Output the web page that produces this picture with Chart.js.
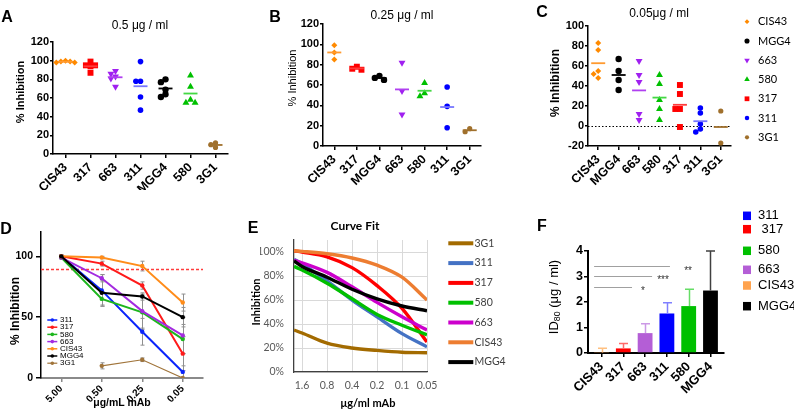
<!DOCTYPE html>
<html><head><meta charset="utf-8"><title>Inhibition panels</title>
<script src="https://cdn.jsdelivr.net/npm/chart.js@4.4.1/dist/chart.umd.min.js"></script>
<style>
html,body{margin:0;padding:0;background:#fff;}
#wrap{position:relative;width:794px;height:415px;overflow:hidden;background:#fff;font-family:"Liberation Sans",Arial,sans-serif;color:#000;}
#wrap canvas{position:absolute;}
.t{position:absolute;transform:translate(-50%,-50%);white-space:nowrap;line-height:1;}
.r{transform:translate(-50%,-50%) rotate(-90deg);}
.L{font-weight:bold;font-size:16px;}
.ti{font-size:12px;}
.b{font-weight:bold;}
.cal{font-family:Lato,"Open Sans",sans-serif;}
sub{font-size:0.68em;vertical-align:-0.25em;line-height:0;}
</style></head><body>
<div id="wrap">
 <div class="t L" style="left:7px;top:17px">A</div>
 <div class="t ti" style="left:140px;top:25px">0.5 μg / ml</div>
 <div class="t r b" style="left:20px;top:92px;font-size:11px">% Inhibition</div>

 <div class="t L" style="left:275px;top:17px">B</div>
 <div class="t ti" style="left:402px;top:15px">0.25 μg / ml</div>
 <div class="t r" style="left:292px;top:78px;font-size:11px">% Inhibition</div>

 <div class="t L" style="left:542px;top:12px">C</div>
 <div class="t ti" style="left:659px;top:13px">0.05μg / ml</div>
 <div class="t r b" style="left:555px;top:83px;font-size:12px">% Inhibition</div>

 <div class="t L" style="left:6px;top:229px">D</div>
 <div class="t r b" style="left:15px;top:311px;font-size:12px">% Inhibition</div>
 <div class="t b" style="left:122px;top:402px;font-size:10.5px">μg/mL mAb</div>

 <div class="t L" style="left:253px;top:228px">E</div>
 <div class="t b cal" style="left:355px;top:226px;font-size:12px">Curve Fit</div>
 <div class="t r b cal" style="left:255px;top:302px;font-size:11px">Inhibition</div>
 <div class="t b cal" style="left:368px;top:402px;font-size:11px">μg/ml mAb</div>

 <div class="t L" style="left:542px;top:226px">F</div>
 <div class="t r" style="left:553px;top:297px;font-size:13px">ID<sub>80</sub> (μg / ml)</div>
</div>
<script>
// ================= DATA =================
// Panel A : 0.5 ug/ml
const catsA = ['CIS43','317','663','311','MGG4','580','3G1'];
const valsA = [[98,100,99,99,98],[99,95,94,95,87],[89,86,83,81,72],[99,78,78,61,47],[80,77,69,64,61],[84,72,58,55,55],[12,10,7]];
const ticksA = [0,20,40,60,80,100,120];
// Panel B : 0.25 ug/ml
const catsB = ['CIS43','317','MGG4','663','580','311','3G1'];
const valsB = [[99,92,85],[75,78,76],[65,69,67],[82,54,31],[62,49,52],[58,39,18],[14,17]];
const ticksB = [0,20,40,60,80,100,120];
// Panel C : 0.05 ug/ml
const catsC = ['CIS43','MGG4','663','580','317','311','3G1'];
const valsC = [[83,76,55,52,48],[67,55,46,36],[65,51,44,12,6],[51,42,26,17,6],[41,32,17,17,-1],[18,13,2,-3,-6],[15,-17]];
const ticksC = [-20,0,20,40,60,80,100];
// Panel D : dose response (mean, sd)
const dosesD = ['5.00','0.50','0.25','0.05'];
const seriesD = ['311','317','580','663','CIS43','MGG4','3G1'];
const meanD = [[100,72,38,5],[100,94,76,20],[99,65,54,32],[99,82,55,35],[100,99,92,62],[100,70,67,50],[null,10,15,0]];
const sdD = [[1,13,11,5],[1,2,3,14],[1,6,14,12],[1,3,14,15],[1,1,4,7],[1,10,3,8],[null,2.5,1.5,0]];
const ticksD = [0,50,100];
const thresholdD = 90;
// Panel E : curve fit
const concE = [2,1.6,0.8,0.4,0.2,0.1,0.05];
const concTicksE = [1.6,0.8,0.4,0.2,0.1,0.05];
const seriesE = ['3G1','311','317','580','663','CIS43','MGG4'];
const fitE = [
  [35,32.5,24,20,18,16.5,16],
  [94,90,76,60,46,32,21],
  [101,100,96,87,72,53,25],
  [88,85,74,61,48,39,31],
  [93,91,83,71,58,46,35],
  [101,100.5,98.5,95,89,79,60],
  [92.5,88,79,69,61,55,51]
];
const ticksE = [0,20,40,60,80,100];
// Panel F : ID80
const catsF = ['CIS43','317','663','311','580','MGG4'];
const id80F = [0.02,0.18,0.78,1.55,1.84,2.45];
const errF = [0.17,0.19,0.37,0.42,0.66,1.55];
const ticksF = [0,1,2,3,4];
const sigLevelsF = [3.43,3.03,2.6];
const sigLabelsF = ['**','***','*'];
const legendF = ['311',' 317','580','663','CIS43','MGG4'];

// ================= STYLE =================
const ARIAL='"Liberation Sans", Arial, Helvetica, sans-serif';
const CAL='Lato, "Open Sans", sans-serif';
const NARROW='"Liberation Sans Narrow", "Liberation Sans", Arial, sans-serif';
Chart.defaults.font.family = ARIAL;
Chart.defaults.color = '#000';

const STY = {
  'CIS43':{c:'#FF8A00', m:'#FF9A30', ps:'rectRot', r:3},
  '317':  {c:'#FF0000', m:'#FF3B3B', ps:'rect', r:4.2},
  '663':  {c:'#A020F0', m:'#B040F0', ps:'triangle', rot:180, r:4},
  '311':  {c:'#0000FF', m:'#7777FF', ps:'circle', r:2.8},
  'MGG4': {c:'#000000', m:'#000000', ps:'circle', r:3.2},
  '580':  {c:'#00C000', m:'#44D844', ps:'triangle', r:4},
  '3G1':  {c:'#A0702C', m:'#A0702C', ps:'circle', r:2.6}
};
const colD = {'311':'#0B24FB','317':'#FF1A1A','580':'#1DB61D','663':'#A32BE0','CIS43':'#FF8C1A','MGG4':'#000000','3G1':'#A0743A'};
const colE = {'3G1':'#A36B00','311':'#4472C4','317':'#FF0000','580':'#00C000','663':'#CC00CC','CIS43':'#ED7D31','MGG4':'#000000'};
const colF = {'CIS43':'#FFA34F','317':'#FF0000','663':'#B45ED6','311':'#0000FF','580':'#00C000','MGG4':'#000000'};
const errColF = {'CIS43':'#FFC080','317':'#FF6B6B','663':'#CC99E6','311':'#8080FF','580':'#66DD66','MGG4':'#404040'};

// ================= LAYOUT =================
const FR = {
  A:{x:0,y:0,w:260,h:190,l:53,r:228,t:42,b:154},
  B:{x:260,y:0,w:260,h:190,l:323,r:481,t:24,b:146},
  C:{x:520,y:0,w:274,h:190,l:588,r:731,t:26,b:146},
  D:{x:0,y:190,w:260,h:225,l:41,r:203,t:232,b:378},
  E:{x:260,y:190,w:260,h:225,l:294,r:427,t:240,b:372},
  F:{x:520,y:190,w:274,h:225,l:588,r:724,t:251,b:353}
};
const wrap = document.getElementById('wrap');
function canvasFor(k){
  const f=FR[k]; const c=document.createElement('canvas');
  c.width=f.w; c.height=f.h;
  c.style.left=f.x+'px'; c.style.top=f.y+'px'; c.style.width=f.w+'px'; c.style.height=f.h+'px';
  wrap.insertBefore(c, wrap.firstChild); return c;
}
function baseOptions(k){
  const f=FR[k];
  return {responsive:false, maintainAspectRatio:false, animation:false, devicePixelRatio:1, events:[],
    layout:{padding:{left:0, top:f.t-f.y, right:f.x+f.w-f.r, bottom:0}},
    plugins:{legend:{display:false}, tooltip:{enabled:false}, title:{display:false}}};
}
const fitX = k => s => { s.height = FR[k].y + FR[k].h - FR[k].b; };
const fitY = k => s => { s.width = FR[k].l - FR[k].x; };

function marker(ctx, style, x, y, r, rot){
  ctx.beginPath();
  if(style==='circle'){ ctx.arc(x,y,r,0,Math.PI*2); }
  else if(style==='rect'){ const s=r*Math.SQRT1_2; ctx.rect(x-s,y-s,2*s,2*s); }
  else if(style==='rectRot'){ ctx.moveTo(x,y-r); ctx.lineTo(x+r,y); ctx.lineTo(x,y+r); ctx.lineTo(x-r,y); ctx.closePath(); }
  else if(style==='triangle'){ const a=(rot||0)*Math.PI/180; for(let i=0;i<3;i++){ const t=a+i*2*Math.PI/3; const px=x+Math.sin(t)*r, py=y-Math.cos(t)*r; if(i) ctx.lineTo(px,py); else ctx.moveTo(px,py);} ctx.closePath(); }
  ctx.fill();
}
function legendPlugin(id, cfg){
  return {id, afterDraw(ch){
    const ctx=ch.ctx; ctx.save(); ctx.font=cfg.font; ctx.textBaseline='middle'; ctx.textAlign='left';
    cfg.items.forEach((it,i)=>{
      const y = cfg.ys ? cfg.ys[i] : cfg.y0 + i*cfg.step; const x=cfg.x;
      if(cfg.kind==='line'){
        ctx.strokeStyle=it.color; ctx.lineWidth=it.lw||cfg.lw; ctx.beginPath(); ctx.moveTo(x,y); ctx.lineTo(x+cfg.len,y); ctx.stroke();
        if(cfg.mr){ ctx.fillStyle=it.color; marker(ctx,'circle',x+cfg.len/2,y,cfg.mr); }
      } else if(cfg.kind==='point'){ ctx.fillStyle=it.color; marker(ctx,it.ps,x,y,it.r,it.rot); }
      else if(cfg.kind==='box'){ ctx.fillStyle=it.color; ctx.fillRect(x, y-cfg.bh/2, cfg.bw, cfg.bh); }
      ctx.fillStyle=cfg.textColor||'#000'; ctx.fillText(it.text, cfg.tx, y);
    });
    ctx.restore();
  }};
}
// simple beeswarm (pixel space) so overlapping replicate points sit side by side
function swarm(vals, kY, sep, step){
  const order = vals.map((v,i)=>i).sort((a,b)=>vals[b]-vals[a]);
  const placed=[], off=vals.map(()=>0);
  const cands=[0]; for(let j=1;j<6;j++){ cands.push(-j*step, j*step); }
  order.forEach(i=>{
    const y=vals[i]*kY;
    for(const c of cands){ if(placed.every(q=>Math.hypot(q.x-c,q.y-y)>=sep)){ off[i]=c; placed.push({x:c,y}); break; } }
  });
  return off;
}

// ================= A / B / C =================
function scatterPanel(k, cats, vals, yTicks, extraPlugins){
  const f = FR[k];
  const yMin=yTicks[0], yMax=yTicks[yTicks.length-1];
  const kY=(f.b-f.t)/(yMax-yMin), kX=(f.r-f.l)/cats.length;
  const datasets = cats.map((c,ci)=>{
    const s=STY[c]; const off=swarm(vals[ci], kY, 4.6, 4.6);
    return {label:c, data: vals[ci].map((v,j)=>({x: ci + off[j]/kX, y: v})),
      pointStyle:s.ps, rotation:s.rot||0, pointRadius:s.r, pointHoverRadius:s.r,
      pointBackgroundColor:s.c, pointBorderColor:s.c, pointBorderWidth:0,
      backgroundColor:s.c, borderColor:s.c, showLine:false};
  });
  const means = {id:'means'+k, afterDatasetsDraw(ch){
    const ctx=ch.ctx, x=ch.scales.x, y=ch.scales.y; ctx.save(); ctx.lineWidth=1.8;
    cats.forEach((c,ci)=>{
      const m = vals[ci].reduce((a,b)=>a+b,0)/vals[ci].length;
      const px=x.getPixelForValue(ci), py=y.getPixelForValue(m);
      ctx.strokeStyle=STY[c].m; ctx.beginPath(); ctx.moveTo(px-7,py); ctx.lineTo(px+7,py); ctx.stroke();
    }); ctx.restore();
  }};
  const opts = baseOptions(k);
  opts.scales = {
    x:{type:'linear', min:-0.5, max:cats.length-0.5, bounds:'data', afterFit:fitX(k),
       afterBuildTicks:s=>{ s.ticks=cats.map((c,i)=>({value:i})); },
       grid:{drawOnChartArea:false, drawTicks:true, tickLength:4, color:'#000', tickColor:'#000', lineWidth:1.5},
       border:{display:true, color:'#000', width:1.5},
       ticks:{autoSkip:false, minRotation:45, maxRotation:45, padding:2, color:'#000', font:{family:ARIAL, size:12.5, weight:'bold'}, callback:v=>cats[v]}},
    y:{type:'linear', min:yMin, max:yMax, bounds:'data', afterFit:fitY(k),
       afterBuildTicks:s=>{ s.ticks=yTicks.map(v=>({value:v})); },
       grid:{drawOnChartArea:false, drawTicks:true, tickLength:3, color:'#000', tickColor:'#000', lineWidth:1.5},
       border:{display:true, color:'#000', width:1.5},
       ticks:{padding:1, color:'#000', font:{family:ARIAL, size:11, weight:'bold'}}}
  };
  return new Chart(canvasFor(k), {type:'scatter', data:{datasets}, options:opts, plugins:[means].concat(extraPlugins||[])});
}

scatterPanel('A', catsA, valsA, ticksA);
scatterPanel('B', catsB, valsB, ticksB);
const zeroLineC = {id:'zeroC', beforeDatasetsDraw(ch){
  const ctx=ch.ctx, y=ch.scales.y, a=ch.chartArea; const py=Math.round(y.getPixelForValue(0))+0.5;
  ctx.save(); ctx.strokeStyle='#000'; ctx.lineWidth=1; ctx.setLineDash([1.5,2]);
  ctx.beginPath(); ctx.moveTo(a.left,py); ctx.lineTo(a.right,py); ctx.stroke(); ctx.restore();
}};
scatterPanel('C', catsC, valsC, ticksC, [zeroLineC, legendPlugin('legC', {
  kind:'point', x:227, tx:238, y0:21.7, step:19.27, font:'11px '+CAL,
  items: catsC.map(c=>({text:c, color:STY[c].c, ps:STY[c].ps, rot:STY[c].rot, r:STY[c].r*0.8}))
})]);

// ================= D =================
(function(){
  const k='D';
  const datasets = seriesD.map((n,i)=>({label:n, data:meanD[i], order:seriesD.length-i,
    borderColor:colD[n], backgroundColor:colD[n], pointBackgroundColor:colD[n], pointBorderWidth:0,
    borderWidth:n==='3G1'?1.2:2, pointRadius:2.2, pointStyle:'circle', tension:0, spanGaps:false, fill:false}));
  const errs = {id:'errD', beforeDatasetsDraw(ch){
    const ctx=ch.ctx, x=ch.scales.x, y=ch.scales.y; ctx.save(); ctx.strokeStyle='#8f8f8f'; ctx.lineWidth=1;
    seriesD.forEach((n,i)=>{ meanD[i].forEach((m,j)=>{
      const sd=sdD[i][j]; if(m==null||!sd) return;
      const px=Math.round(x.getPixelForValue(j))+0.5; const y0=y.getPixelForValue(m-sd), y1=y.getPixelForValue(m+sd);
      ctx.beginPath(); ctx.moveTo(px,y0); ctx.lineTo(px,y1);
      ctx.moveTo(px-2,y0); ctx.lineTo(px+2,y0); ctx.moveTo(px-2,y1); ctx.lineTo(px+2,y1); ctx.stroke();
    }); }); ctx.restore();
  }};
  const thr = {id:'thrD', beforeDatasetsDraw(ch){
    const ctx=ch.ctx, y=ch.scales.y, a=ch.chartArea; const py=Math.round(y.getPixelForValue(thresholdD))+0.5;
    ctx.save(); ctx.strokeStyle='rgb(255,60,60)'; ctx.lineWidth=1.3; ctx.setLineDash([3,2]);
    ctx.beginPath(); ctx.moveTo(a.left,py); ctx.lineTo(a.right,py); ctx.stroke(); ctx.restore();
  }};
  const opts = baseOptions(k);
  opts.scales = {
    x:{type:'category', offset:true, afterFit:fitX(k),
       grid:{drawOnChartArea:false, drawTicks:true, tickLength:4, color:'#8a8a8a', tickColor:'#8a8a8a', lineWidth:1.5, offset:false},
       border:{display:true, color:'#8a8a8a', width:2},
       ticks:{autoSkip:false, minRotation:45, maxRotation:45, padding:1, color:'#000', font:{family:ARIAL, size:10, weight:'bold'}}},
    y:{type:'linear', min:0, max:120, bounds:'data', afterFit:fitY(k),
       afterBuildTicks:s=>{ s.ticks=ticksD.map(v=>({value:v})); },
       grid:{drawOnChartArea:false, drawTicks:true, tickLength:5, color:'#000', tickColor:'#000', lineWidth:1.5},
       border:{display:true, color:'#000', width:1.5},
       ticks:{padding:3, color:'#000', font:{family:ARIAL, size:10.5, weight:'bold'}}}
  };
  new Chart(canvasFor(k), {type:'line', data:{labels:dosesD, datasets}, options:opts,
    plugins:[errs, thr, legendPlugin('legD', {kind:'line', x:47.3, len:10, lw:1.5, mr:1.8, tx:60, y0:130, step:7.2,
      font:'8px '+ARIAL, items: seriesD.map(n=>({text:n, color:colD[n], lw:n==='3G1'?1.2:1.5}))})]});
})();

// ================= E =================
(function(){
  const k='E';
  const datasets = seriesE.map((n,i)=>({label:n, order:seriesE.length-i,
    data: concE.map((c,j)=>({x:c, y:fitE[i][j]})),
    borderColor:colE[n], backgroundColor:colE[n], borderWidth:3.4, pointRadius:0,
    cubicInterpolationMode:'monotone', fill:false}));
  const opts = baseOptions(k);
  opts.scales = {
    x:{type:'logarithmic', reverse:true, min:0.05, max:2, bounds:'data', afterFit:fitX(k),
       afterBuildTicks:s=>{ s.ticks=concTicksE.map(v=>({value:v})); },
       grid:{drawOnChartArea:true, drawTicks:false, color:'#D9D9D9', lineWidth:1},
       border:{display:true, color:'#404040', width:1.3},
       ticks:{autoSkip:false, minRotation:0, maxRotation:0, padding:7, color:'#595959', font:{family:CAL, size:10.5}, callback:v=>String(v)}},
    y:{type:'linear', min:0, max:110, bounds:'data', afterFit:fitY(k),
       afterBuildTicks:s=>{ s.ticks=ticksE.map(v=>({value:v})); },
       grid:{drawOnChartArea:true, drawTicks:false, color:'#D9D9D9', lineWidth:1},
       border:{display:true, color:'#404040', width:1.3},
       ticks:{padding:10, color:'#595959', font:{family:CAL, size:10.5}, callback:v=>v+'%'}}
  };
  new Chart(canvasFor(k), {type:'line', data:{datasets}, options:opts,
    plugins:[legendPlugin('legE', {kind:'line', x:188.3, len:25, lw:4, tx:214.5, y0:53.3, step:19.8,
      font:'10.5px '+CAL, textColor:'#404040', items: seriesE.map(n=>({text:n, color:colE[n]}))})]});
})();

// ================= F =================
(function(){
  const k='F';
  const datasets = [{data: catsF.map((c,i)=>({x:i, y:id80F[i]})), backgroundColor: catsF.map(c=>colF[c]),
    borderWidth:0, barPercentage:0.68, categoryPercentage:1}];
  const errs = {id:'errF', afterDatasetsDraw(ch){
    const ctx=ch.ctx, x=ch.scales.x, y=ch.scales.y; ctx.save(); ctx.lineWidth=1.5;
    catsF.forEach((c,i)=>{
      const px=Math.round(x.getPixelForValue(i))+0.5, y0=y.getPixelForValue(id80F[i]), y1=y.getPixelForValue(id80F[i]+errF[i]);
      ctx.strokeStyle=errColF[c]; ctx.beginPath(); ctx.moveTo(px,y0); ctx.lineTo(px,y1); ctx.moveTo(px-4.5,y1); ctx.lineTo(px+4.5,y1); ctx.stroke();
    }); ctx.restore();
  }};
  const sigEnds = [3.14, 2.32, 1.4], sigStarX = [3.97, 2.82, 1.9], sigStarY = [3.3, 2.97, 2.54];
  const sig = {id:'sigF', afterDatasetsDraw(ch){
    const ctx=ch.ctx, x=ch.scales.x, y=ch.scales.y; ctx.save();
    ctx.strokeStyle='#A0A0A0'; ctx.lineWidth=1.2; ctx.fillStyle='#333'; ctx.font='10px '+ARIAL; ctx.textAlign='center'; ctx.textBaseline='alphabetic';
    sigLevelsF.forEach((lv,i)=>{
      const py=Math.round(y.getPixelForValue(lv))+0.5;
      ctx.beginPath(); ctx.moveTo(x.getPixelForValue(-0.34),py); ctx.lineTo(x.getPixelForValue(sigEnds[i]),py); ctx.stroke();
      ctx.fillText(sigLabelsF[i], x.getPixelForValue(sigStarX[i]), y.getPixelForValue(sigStarY[i])+5.5);
    }); ctx.restore();
  }};
  const opts = baseOptions(k);
  opts.scales = {
    x:{type:'linear', min:-0.62, max:catsF.length-1+0.62, offset:false, bounds:'data', afterFit:fitX(k),
       afterBuildTicks:s=>{ s.ticks=catsF.map((c,i)=>({value:i})); },
       grid:{drawOnChartArea:false, drawTicks:true, tickLength:4, color:'#000', tickColor:'#000', lineWidth:1.5, offset:false},
       border:{display:true, color:'#000', width:2},
       ticks:{autoSkip:false, minRotation:45, maxRotation:45, padding:2, color:'#000', font:{family:ARIAL, size:13, weight:'bold'}, callback:v=>catsF[v]}},
    y:{type:'linear', min:0, max:4, bounds:'data', afterFit:fitY(k),
       afterBuildTicks:s=>{ s.ticks=ticksF.map(v=>({value:v})); },
       grid:{drawOnChartArea:false, drawTicks:true, tickLength:4, color:'#000', tickColor:'#000', lineWidth:1.5},
       border:{display:true, color:'#000', width:2},
       ticks:{padding:1, color:'#000', font:{family:ARIAL, size:12.5, weight:'bold'}}}
  };
  const legOrder = ['311','317','580','663','CIS43','MGG4'];
  new Chart(canvasFor(k), {type:'bar', data:{datasets}, options:opts,
    plugins:[errs, sig, legendPlugin('legF', {kind:'box', x:223, bw:8, bh:8.5, tx:238,
      ys:[25.8,39.2,60.8,79.8,95.5,116.2], font:'13px '+NARROW,
      items: legOrder.map((n,i)=>({text:legendF[i], color:colF[n]}))})]});
})();
</script>
</body></html>
